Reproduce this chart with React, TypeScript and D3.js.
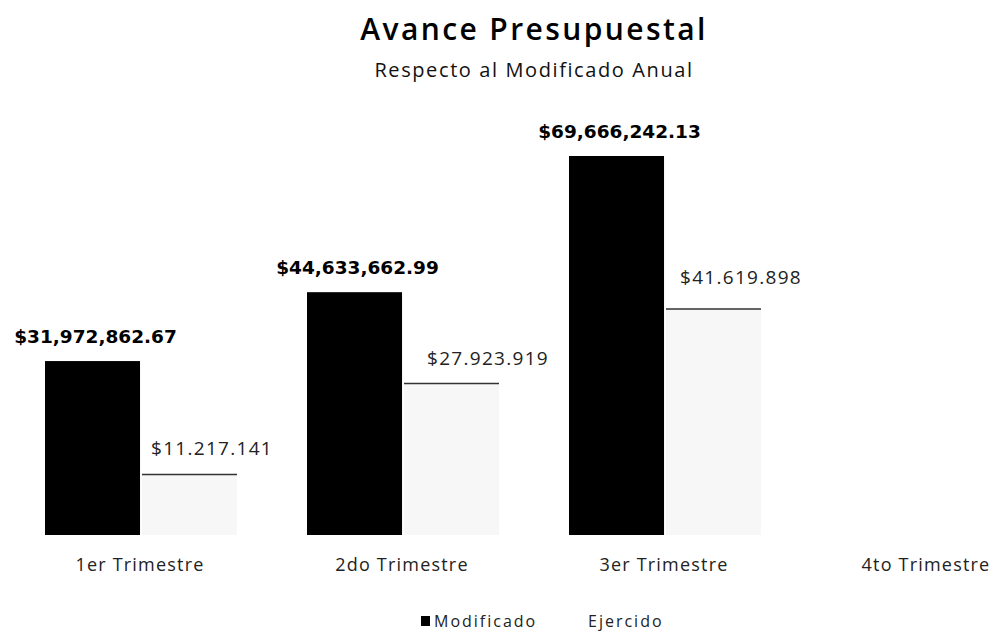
import React, { useRef, useEffect } from 'react'
import * as d3 from 'd3'

const categories = ['1er Trimestre', '2do Trimestre', '3er Trimestre', '4to Trimestre']
const modificado = [31972862.67, 44633662.99, 69666242.13, null]
const ejercido = [11217141, 27923919, 41619898, null]
const modLabels = ['$31,972,862.67', '$44,633,662.99', '$69,666,242.13']
const ejeLabels = ['$11.217.141', '$27.923.919', '$41.619.898']

const W = 998
const H = 633
const FONT = '"Open Sans", "Noto Sans", sans-serif'
const BOLD = '"DejaVu Sans", Verdana, sans-serif'

// small nudges of the scanned value labels
const ejeDx = [9, 23, 14]
const ejeDy = [-19, -18, -25]

const App = () => {
  const svgRef = useRef(null)

  useEffect(() => {
    const svg = d3.select(svgRef.current)
    svg.selectAll('*').remove()

    const baseY = 535

    // band per quarter, two bars per band
    const x = d3.scaleBand()
      .domain(categories)
      .range([9, 1057])

    const inner = d3.scaleBand()
      .domain(['mod', 'eje'])
      .range([36, 228])
      .paddingInner(0.02)

    const y = d3.scaleLinear()
      .domain([0, 69666242.13])
      .range([baseY, 156])

    // title
    svg.append('text')
      .attr('x', 534).attr('y', 40)
      .attr('text-anchor', 'middle')
      .style('font-family', FONT)
      .style('font-size', '30px')
      .style('font-weight', 600)
      .style('letter-spacing', '2.4px')
      .text('Avance Presupuestal')

    svg.append('text')
      .attr('x', 534).attr('y', 77)
      .attr('text-anchor', 'middle')
      .style('font-family', FONT)
      .style('font-size', '20px')
      .style('letter-spacing', '1.6px')
      .style('fill', '#111')
      .text('Respecto al Modificado Anual')

    const g = svg.append('g')

    categories.forEach((c, i) => {
      const m = modificado[i]
      if (m != null) {
        g.append('rect')
          .attr('x', x(c) + inner('mod'))
          .attr('y', y(m))
          .attr('width', inner.bandwidth())
          .attr('height', baseY - y(m))
          .attr('fill', '#000')

        g.append('text')
          .attr('x', x(c) + inner('mod') + inner.bandwidth() / 2 + 3)
          .attr('y', y(m) - 18)
          .attr('text-anchor', 'middle')
          .style('font-family', BOLD)
          .style('font-size', '18.5px')
          .style('font-weight', 700)
          .text(modLabels[i])
      }
      const e = ejercido[i]
      if (e != null) {
        g.append('rect')
          .attr('x', x(c) + inner('eje'))
          .attr('y', y(e))
          .attr('width', inner.bandwidth())
          .attr('height', baseY - y(e))
          .attr('fill', '#f7f7f7')

        g.append('line')
          .attr('x1', x(c) + inner('eje'))
          .attr('x2', x(c) + inner('eje') + inner.bandwidth())
          .attr('y1', y(e) + 0.5)
          .attr('y2', y(e) + 0.5)
          .attr('stroke', '#333')
          .attr('stroke-width', 1.5)

        g.append('text')
          .attr('x', x(c) + inner('eje') + ejeDx[i])
          .attr('y', y(e) + ejeDy[i])
          .style('font-family', FONT)
          .style('font-size', '19px')
          .style('letter-spacing', '1.3px')
          .style('fill', '#222')
          .text(ejeLabels[i])
      }
    })

    // category labels
    g.selectAll('.cat')
      .data(categories)
      .enter().append('text')
      .attr('class', 'cat')
      .attr('x', d => x(d) + x.bandwidth() / 2)
      .attr('y', 571)
      .attr('text-anchor', 'middle')
      .style('font-family', FONT)
      .style('font-size', '18px')
      .style('letter-spacing', '1.2px')
      .style('fill', '#222')
      .text(d => d)

    // legend
    const leg = svg.append('g')
    leg.append('rect')
      .attr('x', 421).attr('y', 616)
      .attr('width', 9).attr('height', 10)
      .attr('fill', '#000')
    leg.append('text')
      .attr('x', 434).attr('y', 627)
      .style('font-family', FONT)
      .style('font-size', '16px')
      .style('letter-spacing', '2px')
      .style('fill', '#222')
      .text('Modificado')
    leg.append('text')
      .attr('x', 588).attr('y', 627)
      .style('font-family', FONT)
      .style('font-size', '16px')
      .style('letter-spacing', '2px')
      .style('fill', '#222')
      .text('Ejercido')
  }, [])

  return (
    <svg
      ref={svgRef}
      width={W}
      height={H}
      style={{ position: 'absolute', left: 0, top: 0, background: '#fff' }}
    ></svg>
  )
}

export default App
